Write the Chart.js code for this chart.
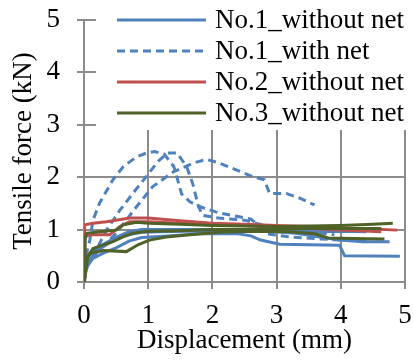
<!DOCTYPE html>
<html>
<head>
<meta charset="utf-8">
<script src="https://cdn.jsdelivr.net/npm/chart.js@4"></script>
<style>
  html, body { margin: 0; padding: 0; background: #fff; }
  #wrap { width: 414px; height: 362px; }
</style>
</head>
<body>
<div id="wrap"><canvas id="myChart"></canvas></div>
<script>
// Data (displacement mm, tensile force kN)

const no1WithoutNetA = [[0,0],[0.04,0.29],[0.14,0.45],[0.3,0.55],[0.5,0.65],[0.7,0.78],[0.9,0.85],[1.3,0.88],[1.8,0.92],[2.4,0.92],[2.6,0.88],[2.75,0.8],[3.05,0.72],[3.5,0.71],[3.98,0.7],[4.06,0.5],[4.92,0.49]];
const no1WithoutNetB = [[0,0],[0.05,0.45],[0.15,0.6],[0.3,0.72],[0.5,0.85],[0.7,0.96],[0.9,1.0],[1.5,1.0],[2.5,1.0],[3.3,0.93],[3.98,0.8],[4.34,0.77],[4.76,0.77]];
const no1WithoutNetC = [[0,0],[0.05,0.35],[0.2,0.6],[0.4,0.75],[0.6,0.88],[0.9,0.95],[1.5,0.97],[2.5,0.97],[3.2,0.97],[3.6,0.96],[4.0,0.97],[4.4,0.96]];

const no1WithNetA = [[0,0],[0.03,0.5],[0.09,0.8],[0.14,1.18],[0.24,1.5],[0.45,1.95],[0.61,2.2],[0.82,2.39],[0.97,2.46],[1.1,2.49],[1.25,2.44],[1.4,2.2],[1.47,1.9],[1.52,1.68],[1.65,1.53],[1.8,1.44],[2.1,1.32],[2.4,1.25],[2.6,1.2],[2.75,1.05],[2.85,0.92],[3.2,0.86],[3.7,0.82],[4.0,0.8],[4.45,0.78]];
const no1WithNetB = [[0,0],[0.05,0.3],[0.19,0.61],[0.35,0.99],[0.56,1.37],[0.76,1.69],[0.97,2.01],[1.15,2.3],[1.3,2.46],[1.45,2.46],[1.6,2.2],[1.7,1.85],[1.78,1.45],[1.85,1.27],[2.1,1.22],[2.5,1.18],[2.9,1.05],[3.3,0.98],[3.6,0.95],[3.9,0.9]];
const no1WithNetC = [[0,0],[0.05,0.3],[0.19,0.55],[0.5,0.93],[0.82,1.44],[1.07,1.82],[1.39,2.1],[1.7,2.27],[1.91,2.34],[2.11,2.27],[2.37,2.14],[2.63,2.01],[2.81,1.95],[2.89,1.69],[3.15,1.69],[3.36,1.6],[3.59,1.47]];

const no2WithoutNetA = [[0,0],[0.01,0.86],[0.01,1.09],[0.14,1.12],[0.35,1.15],[0.5,1.18],[0.71,1.22],[1.0,1.22],[1.5,1.17],[2.0,1.12],[2.5,1.1],[3.0,1.08],[3.5,1.06],[4.0,1.03],[4.5,1.01],[4.88,0.99]];
const no2WithoutNetB = [[0,0],[0.01,0.86],[0.09,0.9],[0.4,0.9],[0.56,1.06],[0.71,1.15],[1.0,1.15],[1.5,1.12],[2.0,1.1],[2.5,1.08],[3.0,1.05],[3.5,1.02],[4.0,0.99],[4.63,0.96]];

const no3WithoutNetA = [[0,0],[0.02,0.85],[0.04,0.93],[0.24,0.96],[0.5,0.99],[0.61,1.09],[0.82,1.14],[1.0,1.12],[1.5,1.1],[2.0,1.08],[2.5,1.07],[3.0,1.06],[3.5,1.07],[4.0,1.08],[4.5,1.1],[4.81,1.12]];
const no3WithoutNetB = [[0,0],[0.06,0.48],[0.14,0.64],[0.3,0.71],[0.45,0.77],[0.61,0.86],[0.76,0.93],[1.0,0.97],[1.5,0.98],[2.0,1.0],[2.5,1.0],[3.0,1.01],[3.5,1.02],[4.0,1.02],[4.63,1.02]];
const no3WithoutNetC = [[0,0],[0.03,0.4],[0.09,0.55],[0.3,0.6],[0.66,0.58],[0.84,0.71],[1.02,0.8],[1.28,0.86],[1.65,0.9],[2.1,0.95],[2.6,0.97],[3.2,0.96],[3.6,0.92],[3.8,0.84],[4.2,0.83],[4.68,0.82]];

const legendLabels = ["No.1_without net", "No.1_with net", "No.2_without net", "No.3_without net"];
const xTicks = [0, 1, 2, 3, 4, 5];
const yTicks = [0, 1, 2, 3, 4, 5];

// Styles

const BLUE = "#4F81BD";
const RED = "#C0504D";
const GREEN = "#4F6228";
const GRID = "#8c8c8c";
const FONT = "'Liberation Serif', 'Times New Roman', serif";

const toPoints = arr => arr.map(p => ({ x: p[0], y: p[1] }));

const line = (data, color, dashed) => ({
  data: toPoints(data),
  borderColor: color,
  backgroundColor: color,
  borderWidth: 3,
  borderDash: dashed ? [8, 5] : [],
  pointRadius: 0,
  tension: 0,
  fill: false,
  showLine: true,
});

const legendItems = [
  { text: legendLabels[0], color: BLUE, dash: [] },
  { text: legendLabels[1], color: BLUE, dash: [8, 5] },
  { text: legendLabels[2], color: RED, dash: [] },
  { text: legendLabels[3], color: GREEN, dash: [] },
];

// Excel style legend sitting on top of the plot, white box behind it
const overlayLegend = {
  id: "overlayLegend",
  afterDraw(chart) {
    const c = chart.ctx;
    c.save();
    c.fillStyle = "#fff";
    c.fillRect(96, 0, 318, 130);
    c.font = "27px " + FONT;
    c.textBaseline = "middle";
    c.fillStyle = "#000";
    legendItems.forEach((item, i) => {
      const y = 20 + i * 31;
      c.beginPath();
      c.strokeStyle = item.color;
      c.lineWidth = 3;
      c.setLineDash(item.dash);
      c.moveTo(117, y);
      c.lineTo(206, y);
      c.stroke();
      c.setLineDash([]);
      c.fillText(item.text, 215, y + 1);
    });
    c.restore();
  },
};

// Chart declaration

const ctx = document.getElementById("myChart").getContext("2d");
const chart = new Chart(ctx, {
  type: "scatter",
  data: {
    datasets: [
      line(no3WithoutNetA, GREEN),
      line(no3WithoutNetB, GREEN),
      line(no3WithoutNetC, GREEN),
      line(no2WithoutNetA, RED),
      line(no2WithoutNetB, RED),
      line(no1WithoutNetA, BLUE),
      line(no1WithoutNetB, BLUE),
      line(no1WithoutNetC, BLUE),
      line(no1WithNetA, BLUE, true),
      line(no1WithNetB, BLUE, true),
      line(no1WithNetC, BLUE, true),
    ],
  },
  options: {
    responsive: true,
    maintainAspectRatio: false,
    animation: false,
    layout: { padding: { top: 20, right: 9, left: 0, bottom: 0 } },
    plugins: {
      legend: { display: false },
      tooltip: { enabled: false },
    },
    scales: {
      x: {
        type: "linear",
        min: 0,
        max: 5,
        afterBuildTicks: s => { s.ticks = xTicks.map(v => ({ value: v })); },
        afterFit: s => { s.height = 80; s.paddingLeft = 0; s.paddingRight = 0; },
        grid: { color: GRID, lineWidth: 2, tickLength: 7, drawTicks: true },
        border: { color: GRID, width: 2 },
        ticks: { color: "#000", font: { family: FONT, size: 27 }, padding: 11, maxRotation: 0 },
        title: {
          display: true,
          text: "Displacement (mm)",
          color: "#000",
          font: { family: FONT, size: 27 },
          padding: { top: 0, bottom: 5 },
        },
      },
      y: {
        type: "linear",
        min: 0,
        max: 5,
        afterBuildTicks: s => { s.ticks = yTicks.map(v => ({ value: v })); },
        afterFit: s => { s.width = 84; s.paddingTop = 0; s.paddingBottom = 0; },
        grid: { color: GRID, lineWidth: 2, tickLength: 7, drawTicks: true },
        border: { color: GRID, width: 2 },
        ticks: { color: "#000", font: { family: FONT, size: 27 }, padding: 17 },
        title: {
          display: true,
          text: "Tensile force (kN)",
          color: "#000",
          font: { family: FONT, size: 27 },
          padding: { top: 8, bottom: 0 },
        },
      },
    },
  },
  plugins: [overlayLegend],
});
</script>
</body>
</html>
